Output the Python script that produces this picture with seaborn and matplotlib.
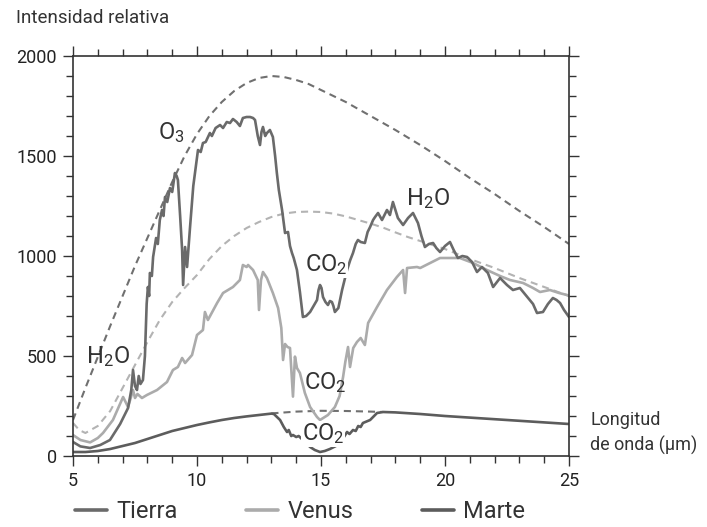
import numpy as np
import pandas as pd
import matplotlib
matplotlib.use("Agg")
import matplotlib.pyplot as plt
import seaborn as sns
from matplotlib.ticker import MultipleLocator

# ---------------- data ----------------
tierra_x = [5.0, 5.3, 5.69, 6.1, 6.49, 6.9, 7.22, 7.35, 7.42, 7.5, 7.58, 7.65, 7.72, 7.82, 7.9,
            7.97, 8.02, 8.07, 8.1, 8.18, 8.23, 8.3, 8.35, 8.42, 8.5, 8.59, 8.65, 8.71, 8.8, 8.91,
            9.0, 9.11, 9.18, 9.23, 9.32, 9.4, 9.44, 9.48, 9.52, 9.6, 9.72, 9.85, 10.04, 10.15,
            10.24, 10.35, 10.52, 10.6, 10.75, 10.93, 11.05, 11.2, 11.33, 11.45, 11.6, 11.73,
            11.85, 12.0, 12.14, 12.26, 12.34, 12.45, 12.54, 12.6, 12.66, 12.75, 12.82, 12.94,
            13.06, 13.15, 13.22, 13.3, 13.43, 13.55, 13.67, 13.75, 13.83, 13.9, 14.03, 14.15,
            14.27, 14.4, 14.56, 14.7, 14.84, 14.9, 14.96, 15.02, 15.08, 15.18, 15.28, 15.36,
            15.44, 15.5, 15.56, 15.7, 15.85, 16.05, 16.18, 16.29, 16.4, 16.49, 16.6, 16.77,
            16.88, 16.98, 17.1, 17.18, 17.3, 17.46, 17.66, 17.78, 17.9, 18.0, 18.1, 18.31,
            18.51, 18.71, 18.91, 19.05, 19.19, 19.35, 19.52, 19.65, 19.8, 20.0, 20.2, 20.35,
            20.52, 20.7, 20.89, 21.09, 21.29, 21.49, 21.73, 21.94, 22.22, 22.5, 22.74, 23.02,
            23.35, 23.55, 23.71, 23.95, 24.15, 24.35, 24.5, 24.64, 24.8, 25.0]
tierra_y = [70, 48, 40, 55, 80, 160, 240, 330, 430, 350, 330, 400, 360, 380, 500,
            760, 845, 800, 915, 900, 995, 1050, 1090, 1060, 1180, 1230, 1200, 1295, 1270, 1340,
            1320, 1415, 1400, 1380, 1200, 1030, 855, 950, 1045, 945, 1145, 1350, 1530, 1520,
            1565, 1570, 1615, 1600, 1640, 1655, 1640, 1670, 1665, 1685, 1670, 1650,
            1690, 1695, 1695, 1690, 1680, 1600, 1555, 1620, 1645, 1600, 1615, 1630,
            1595, 1500, 1415, 1330, 1230, 1115, 1120, 1050, 1015, 990, 930, 820,
            695, 700, 720, 750, 780, 830, 855, 840, 795, 770, 755, 775,
            770, 750, 720, 740, 830, 930, 980, 1015, 1060, 1080, 1070, 1065,
            1120, 1145, 1180, 1195, 1215, 1180, 1230, 1205, 1270, 1230, 1190, 1155,
            1190, 1215, 1165, 1100, 1045, 1060, 1065, 1040, 1020, 1050, 1070, 1030,
            990, 1000, 995, 970, 920, 945, 915, 845, 890, 855, 830, 840,
            790, 760, 715, 720, 760, 790, 780, 765, 730, 695]

venus_x = [5.0, 5.3, 5.69, 6.0, 6.21, 6.61, 7.02, 7.22, 7.35, 7.42, 7.5, 7.6, 7.78, 7.98, 8.39,
           8.79, 9.03, 9.23, 9.4, 9.52, 9.8, 10.0, 10.24, 10.32, 10.44, 10.81, 11.05, 11.45,
           11.73, 11.85, 12.0, 12.06, 12.26, 12.45, 12.5, 12.58, 12.66, 12.82, 13.06, 13.27,
           13.4, 13.47, 13.55, 13.65, 13.75, 13.87, 13.95, 14.03, 14.15, 14.35, 14.56, 14.84,
           14.96, 15.28, 15.56, 15.75, 15.89, 15.98, 16.09, 16.17, 16.3, 16.45, 16.6, 16.77,
           16.9, 17.26, 17.66, 18.06, 18.31, 18.39, 18.47, 18.87, 19.0, 19.4, 19.8, 20.2,
           20.6, 21.13, 21.69, 22.22, 22.62, 23.15, 23.55, 23.83, 24.23, 24.6, 24.92, 25.0]
venus_y = [105, 80, 68, 90, 115, 180, 295, 245, 300, 330, 290, 310, 290, 305, 330,
           370, 430, 445, 490, 465, 505, 605, 630, 720, 680, 765, 815, 845,
           880, 955, 945, 955, 930, 880, 730, 880, 920, 890, 815, 740,
           640, 480, 560, 545, 540, 297, 497, 440, 415, 315, 245, 195,
           180, 205, 245, 300, 395, 470, 545, 445, 540, 570, 590, 555,
           665, 745, 830, 895, 930, 815, 940, 945, 940, 965, 990, 990,
           990, 965, 930, 900, 880, 865, 840, 820, 830, 815, 805, 800]

marte_x = [5.0, 5.5, 6.0, 6.5, 7.0, 7.5, 8.0, 8.5, 9.0, 9.5, 10.0, 10.5, 11.0, 11.5, 12.0,
           12.5, 13.0, 13.1, 13.35, 13.5, 13.63, 13.7, 13.8, 13.87, 14.0, 14.1, 14.27, 14.56,
           14.75, 14.96, 15.15, 15.36, 15.6, 15.8, 15.9, 16.05, 16.15, 16.29, 16.4, 16.5,
           16.6, 16.69, 16.98, 17.1, 17.26, 17.5, 18.0, 19.0, 20.0, 21.0, 22.0, 23.0, 24.0, 25.0]
marte_y = [20, 20, 25, 35, 50, 65, 85, 105, 125, 140, 155, 168, 180, 190, 198,
           205, 212, 210, 180, 145, 120, 130, 100, 105, 95, 100, 80, 45,
           30, 20, 25, 35, 50, 75, 90, 120, 110, 130, 125, 150,
           145, 165, 180, 195, 215, 220, 218, 210, 200, 192, 184, 176, 168, 160]

# blackbody reference curves (dashed)
tierra_bb_x = [5.0, 5.5, 6.0, 6.5, 7.0, 7.5, 8.0, 8.5, 9.0, 9.5, 10.0, 10.5, 11.0, 11.5, 12.0,
               12.5, 13.0, 13.5, 14.0, 14.5, 15.0, 16.0, 17.0, 18.0, 19.0, 20.0, 21.0, 22.0,
               23.0, 24.0, 25.0]
tierra_bb_y = [180, 340, 495, 650, 800, 950, 1090, 1230, 1370, 1500, 1610, 1700, 1770, 1825, 1865,
               1890, 1900, 1895, 1880, 1860, 1830, 1770, 1700, 1630, 1555, 1475, 1390, 1310,
               1225, 1145, 1060]
venus_bb_x = [5.0, 5.25, 5.5, 6.0, 6.5, 7.0, 7.5, 8.0, 8.5, 9.0, 9.5, 10.0, 10.5, 11.0, 11.5,
              12.0, 12.5, 13.0, 13.5, 14.0, 14.5, 15.0, 15.5, 16.0, 16.5, 17.0, 17.5, 18.0,
              18.5, 19.0, 19.5, 20.0, 21.0, 22.0, 23.0, 24.0, 25.0]
venus_bb_y = [165, 130, 115, 150, 225, 340, 455, 570, 680, 770, 840, 905, 985, 1050, 1100,
              1140, 1170, 1195, 1212, 1220, 1222, 1220, 1212, 1198, 1180, 1162, 1142, 1118,
              1095, 1075, 1055, 1035, 985, 940, 890, 845, 800]
marte_bb_x = [13.0, 14.0, 15.0, 16.0, 17.0, 17.5]
marte_bb_y = [213, 222, 226, 225, 222, 220]

series_names = ["Tierra", "Venus", "Marte"]
x_ticks = [5, 10, 15, 20, 25]
y_ticks = [0, 500, 1000, 1500, 2000]

# ---------------- style ----------------
sns.set_style("ticks")
plt.rcParams['font.family'] = ['Roboto', 'DejaVu Sans']
plt.rcParams['mathtext.fontset'] = 'custom'
plt.rcParams['mathtext.rm'] = 'Roboto'
plt.rcParams['mathtext.it'] = 'Roboto'
plt.rcParams['mathtext.default'] = 'regular'

c_tierra = "#6a6a6a"
c_venus = "#ababab"
c_marte = "#5c5c5c"
c_dash_dark = "#707070"
c_dash_light = "#b3b3b3"
c_axis = "#333333"
c_text = "#333333"

fig = plt.figure(figsize=(7.07, 5.27), dpi=100)
ax = fig.add_axes([73 / 707, 1 - 456 / 527, 496 / 707, 400 / 527])

dash = (0, (3.4, 2.4))
for xs, ys, col in [(tierra_bb_x, tierra_bb_y, c_dash_dark),
                    (venus_bb_x, venus_bb_y, c_dash_light),
                    (marte_bb_x, marte_bb_y, c_dash_dark)]:
    df = pd.DataFrame({"x": xs, "y": ys})
    sns.lineplot(data=df, x="x", y="y", ax=ax, color=col, linewidth=1.5,
                 linestyle=dash, estimator=None, sort=False)

for name, xs, ys, col in [("Venus", venus_x, venus_y, c_venus),
                          ("Tierra", tierra_x, tierra_y, c_tierra),
                          ("Marte", marte_x, marte_y, c_marte)]:
    df = pd.DataFrame({"x": xs, "y": ys})
    sns.lineplot(data=df, x="x", y="y", ax=ax, color=col, linewidth=1.9,
                 estimator=None, sort=False, label=name)

if ax.get_legend() is not None:
    ax.get_legend().remove()

ax.set_xlim(5, 25)
ax.set_ylim(0, 2000)
ax.set_xlabel("")
ax.set_ylabel("")
ax.set_xticks(x_ticks)
ax.set_yticks(y_ticks)
ax.xaxis.set_minor_locator(MultipleLocator(1))
ax.yaxis.set_minor_locator(MultipleLocator(100))
ax.tick_params(which='both', direction='out', top=True, right=True,
               labeltop=False, labelright=False, color=c_axis, width=1.0,
               labelcolor="#222222")
ax.tick_params(which='major', length=7.5, labelsize=13, pad=4)
ax.tick_params(which='minor', length=5)
for sp in ax.spines.values():
    sp.set_visible(True)
    sp.set_color(c_axis)
    sp.set_linewidth(1.2)

# annotations
ann_fs = 17
ax.text(8.95, 1615, "O$_3$", fontsize=ann_fs, color=c_text, ha="center", va="center")
ax.text(19.3, 1285, "H$_2$O", fontsize=ann_fs, color=c_text, ha="center", va="center")
ax.text(6.41, 495, "H$_2$O", fontsize=ann_fs, color=c_text, ha="center", va="center")
ax.text(15.2, 955, "CO$_2$", fontsize=ann_fs, color=c_text, ha="center", va="center",
        bbox=dict(facecolor="white", edgecolor="none", pad=0.5))
ax.text(15.16, 365, "CO$_2$", fontsize=ann_fs, color=c_text, ha="center", va="center")
ax.text(15.08, 110, "CO$_2$", fontsize=ann_fs, color=c_text, ha="center", va="center",
        bbox=dict(facecolor="white", edgecolor="none", pad=0.5))
ax.text(25.85, 115, "Longitud\nde onda (µm)", fontsize=13, color=c_text, ha="left",
        va="center", linespacing=1.45, clip_on=False)

fig.text(16 / 707, 1 - 18 / 527, "Intensidad relativa", fontsize=13.5, color=c_text,
         ha="left", va="center")

handles, labels = ax.get_legend_handles_labels()
order = [labels.index(n) for n in series_names]
leg = fig.legend([handles[i] for i in order], [labels[i] for i in order],
                 loc="center", bbox_to_anchor=(300 / 707, 1 - 512 / 527), ncol=3,
                 frameon=False, fontsize=17, handlelength=1.35, handletextpad=0.4,
                 columnspacing=2.9, borderpad=0)
for t in leg.get_texts():
    t.set_color(c_text)
for h in leg.get_lines():
    h.set_linewidth(2.6)

fig.savefig("out.png", dpi=100)
